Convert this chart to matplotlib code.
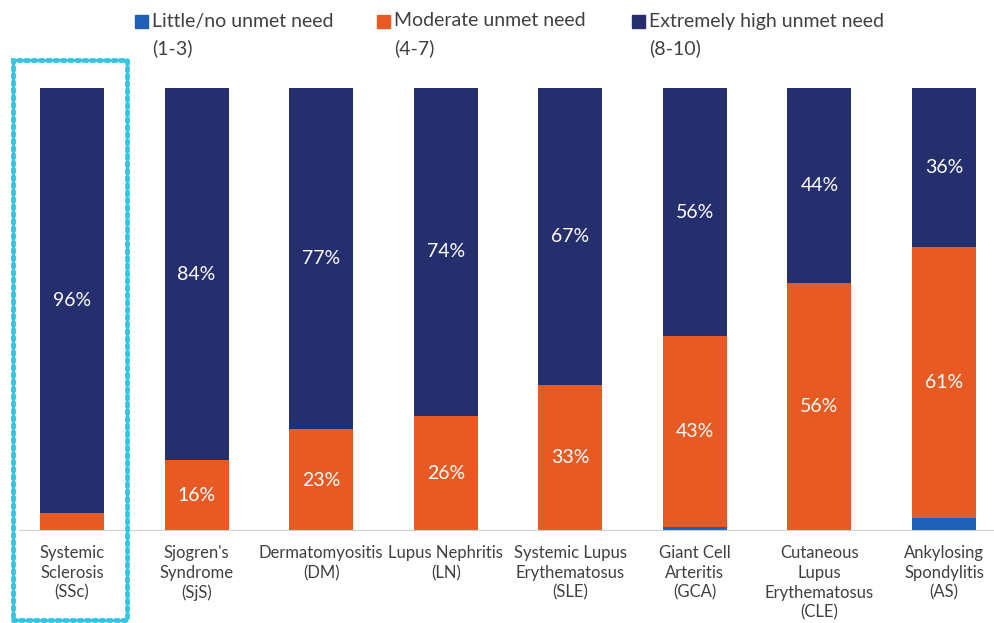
import matplotlib.pyplot as plt
from matplotlib.patches import Rectangle
import numpy as np

plt.rcParams["font.family"] = ["Lato", "DejaVu Sans"]

categories = [
    "Systemic\nSclerosis\n(SSc)",
    "Sjogren's\nSyndrome\n(SjS)",
    "Dermatomyositis\n(DM)",
    "Lupus Nephritis\n(LN)",
    "Systemic Lupus\nErythematosus\n(SLE)",
    "Giant Cell\nArteritis\n(GCA)",
    "Cutaneous\nLupus\nErythematosus\n(CLE)",
    "Ankylosing\nSpondylitis\n(AS)",
]
little = [0, 0, 0, 0, 0, 1, 0, 3]
moderate = [4, 16, 23, 26, 33, 43, 56, 61]
extreme = [96, 84, 77, 74, 67, 56, 44, 36]

series_names = ["Little/no unmet need\n(1-3)", "Moderate unmet need\n(4-7)",
                "Extremely high unmet need\n(8-10)"]
colors = ["#1F5FB5", "#E85A24", "#262F6E"]
text_color = "#404040"

W, H = 994, 623
fig = plt.figure(figsize=(W / 100, H / 100), dpi=100)
ax = fig.add_axes([0, (H - 531) / H, 1, 443 / H])

x = np.arange(len(categories))
step = (944 - 72) / 7
ax.set_xlim(-72 / step, (W - 72) / step)
ax.set_ylim(0, 100)

width = 64 / step
bottom = np.zeros(len(categories))
for vals, col, lab_on in zip([little, moderate, extreme], colors, [False, True, True]):
    vals = np.array(vals, dtype=float)
    ax.bar(x, vals, width, bottom=bottom, color=col)
    if lab_on:
        for xi, b, v in zip(x, bottom, vals):
            if v >= 10:
                ax.text(xi, b + v / 2, f"{int(v)}%", ha="center", va="center",
                        color="white", fontsize=14)
    bottom += vals

ax.axhline(0, xmin=20 / W, xmax=1, color="#D0D0D0", lw=1.5)
for s in ax.spines.values():
    s.set_visible(False)
ax.set_yticks([])
ax.set_xticks(x)
ax.set_xticklabels(categories, fontsize=12, color=text_color, linespacing=1.3)
ax.tick_params(axis="x", length=0, pad=10)

# legend (square marker + two-line label)
leg_x = [135, 377, 632]
for lx, name, col in zip(leg_x, series_names, colors):
    fig.patches.append(Rectangle((lx / W, 1 - 28 / H), 13 / W, 13 / H,
                                 transform=fig.transFigure, color=col))
    first, second = name.split("\n")
    fig.text((lx + 17) / W, 1 - 21 / H, first, color=text_color, fontsize=14,
             va="center", ha="left")
    fig.text((lx + 17) / W, 1 - 48 / H, second, color=text_color, fontsize=14,
             va="center", ha="left")

# highlight box
fig.patches.append(Rectangle((13 / W, 1 - 620 / H), 114 / W, 560 / H,
                             transform=fig.transFigure, fill=False,
                             edgecolor="#35C5DF", lw=3.5,
                             linestyle=(0, (0.6, 0.9)), capstyle="round"))

fig.savefig("out.png", dpi=100)
